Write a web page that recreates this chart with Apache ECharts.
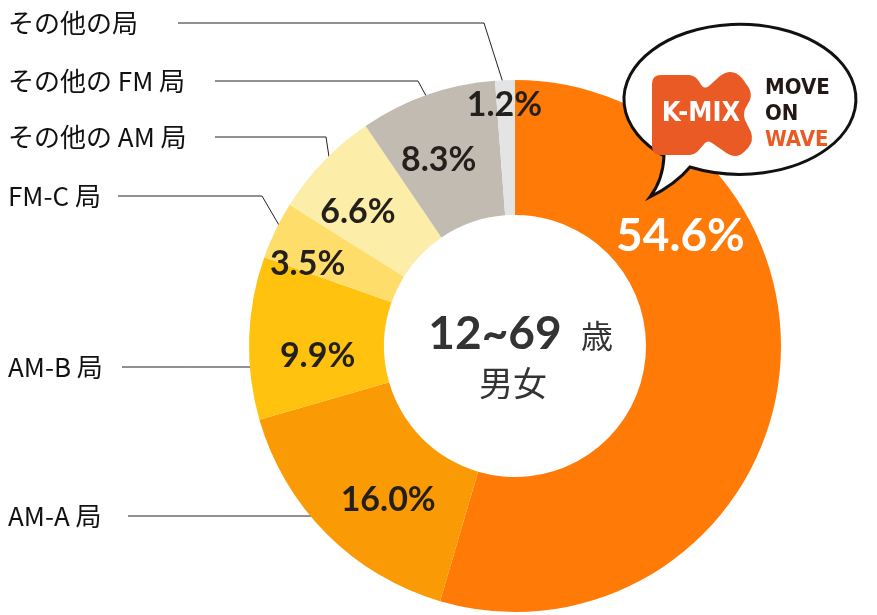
<!DOCTYPE html>
<html>
<head>
<meta charset="utf-8">
<script src="https://cdn.jsdelivr.net/npm/echarts@6/dist/echarts.min.js"></script>
<style>
  html, body { margin: 0; padding: 0; background: #fff; }
  #chart { width: 877px; height: 615px; }
</style>
</head>
<body>
<div id="chart"></div>
<script>
// 聴取シェア 12~69歳 男女
const names = ['K-MIX', 'AM-A 局', 'AM-B 局', 'FM-C 局', 'その他の AM 局', 'その他の FM 局', 'その他の局'];
const shares = [54.6, 16.0, 9.9, 3.5, 6.6, 8.3, 1.2];
const colors = ['#FF7A07', '#FA9A04', '#FFC20E', '#FFDD6B', '#FCEDA8', '#C2BBB1', '#E4E4E4'];

// layout of the donut and its labels
const CX = 515, CY = 346, R0 = 131, R1 = 266;
const labelY = [null, 516, 367, 196, 137, 81, 23];
const lineStartX = [null, 128, 122, 118, 215, 215, 178];
const elbowX = [null, null, null, 262, 326, 418, 484];
const insideDx = [-34, 16, 4, -26, -12, -10, -3];
const insideDy = [-139, 12, 16, 6, 6, 4, -40];

const total = shares.reduce((a, b) => a + b, 0);
function midAngle(i) {
  let cum = 0;
  for (let k = 0; k < i; k++) cum += shares[k];
  return (cum + shares[i] / 2) / total * Math.PI * 2;
}

const chart = echarts.init(document.getElementById('chart'));

// speech bubble + logo shapes
echarts.graphic.registerShape('bubble', echarts.graphic.extendPath(
  'M 664 156 A 116 75 0 1 1 690 167 Q 676 184 650 197 Q 663 180 664 156 Z'
));
echarts.graphic.registerShape('kmixMark', echarts.graphic.extendPath(
  'M 652 84 Q 652 75 661 75 L 688 75 Q 694 75 698 80 L 702 86 Q 705 89 709 86 L 720 76 ' +
  'Q 732 67 742 78 L 749 88 Q 752 94 750 100 L 745 109 Q 743 115 745 120 L 751 132 ' +
  'Q 754 141 748 148 L 744 152 Q 736 160 725 152 L 712 143 Q 708 140 705 143 L 699 150 ' +
  'Q 695 155 688 155 L 661 155 Q 652 155 652 146 Z'
));

const data = names.map((n, i) => ({ name: n, value: shares[i], itemStyle: { color: colors[i] } }));

const option = {
  animation: false,
  backgroundColor: '#fff',
  series: [
    {
      type: 'pie',
      center: [CX, CY],
      radius: [R0, R1],
      startAngle: 90,
      silent: true,
      avoidLabelOverlap: false,
      label: {
        show: true,
        position: 'inside',
        formatter: p => p.value.toFixed(1) + '%',
        fontFamily: 'Lato, "Noto Sans", sans-serif',
        fontWeight: 'bold',
        fontSize: 34,
        color: '#231F1C'
      },
      labelLine: { show: false },
      labelLayout: p => ({ dx: insideDx[p.dataIndex], dy: insideDy[p.dataIndex] }),
      data: data.map((d, i) => i === 0 ? Object.assign({}, d, {
        label: { color: '#fff', fontSize: 46 }
      }) : d)
    },
    {
      type: 'pie',
      center: [CX, CY],
      radius: [R0, R1],
      startAngle: 90,
      silent: true,
      avoidLabelOverlap: false,
      itemStyle: { color: 'rgba(0,0,0,0)' },
      label: {
        show: true,
        position: 'outside',
        formatter: '{b}',
        fontFamily: '"Noto Sans CJK JP", sans-serif',
        fontSize: 26,
        color: '#111'
      },
      labelLine: { show: true, lineStyle: { color: '#222', width: 1 } },
      labelLayout: function (p) {
        const i = p.dataIndex;
        if (labelY[i] == null) return {};
        const y = labelY[i];
        let points;
        if (elbowX[i] == null) {
          const dy = y - CY;
          const ax = CX - Math.sqrt(260 * 260 - dy * dy);
          points = [[ax, y], [(ax + lineStartX[i]) / 2, y], [lineStartX[i], y]];
        } else {
          const a = midAngle(i);
          const anchor = [CX + 256 * Math.sin(a), CY - 256 * Math.cos(a)];
          points = [anchor, [elbowX[i], y], [lineStartX[i], y]];
        }
        return { x: 8, y: y, align: 'left', verticalAlign: 'middle', labelLinePoints: points };
      },
      data: names.map((n, i) => i === 0 ? {
        name: n, value: shares[i], label: { show: false }, labelLine: { show: false }
      } : { name: n, value: shares[i] })
    }
  ],
  graphic: [
    { type: 'text', x: 495, y: 334, z: 5, style: {
      text: '12~69', align: 'center', verticalAlign: 'middle',
      font: 'bold 46px Lato, "Noto Sans", sans-serif', fill: '#333' } },
    { type: 'text', x: 581, y: 336, z: 5, style: {
      text: '歳', align: 'left', verticalAlign: 'middle',
      font: '32px "Noto Sans CJK JP", sans-serif', fill: '#333' } },
    { type: 'text', x: 513, y: 383, z: 5, style: {
      text: '男女', align: 'center', verticalAlign: 'middle',
      font: '34px "Noto Sans CJK JP", sans-serif', fill: '#333' } },

    { type: 'bubble', z: 10, style: { fill: '#fff', stroke: '#111', lineWidth: 3 } },
    { type: 'kmixMark', z: 11, style: { fill: '#E95A24' } },
    { type: 'text', x: 701, y: 114, z: 12, style: {
      text: 'K-MIX', align: 'center', verticalAlign: 'middle',
      font: 'bold 27px "DejaVu Sans Condensed", "Liberation Sans Narrow", sans-serif', fill: '#fff' } },
    { type: 'text', x: 765, y: 88, z: 12, style: {
      text: 'MOVE', align: 'left', verticalAlign: 'middle',
      font: 'bold 22px "DejaVu Sans Condensed", "Liberation Sans Narrow", sans-serif', fill: '#231815' } },
    { type: 'text', x: 765, y: 114, z: 12, style: {
      text: 'ON', align: 'left', verticalAlign: 'middle',
      font: 'bold 22px "DejaVu Sans Condensed", "Liberation Sans Narrow", sans-serif', fill: '#231815' } },
    { type: 'text', x: 765, y: 140, z: 12, style: {
      text: 'WAVE', align: 'left', verticalAlign: 'middle',
      font: 'bold 22px "DejaVu Sans Condensed", "Liberation Sans Narrow", sans-serif', fill: '#E95A24' } }
  ]
};

chart.setOption(option);
</script>
</body>
</html>
